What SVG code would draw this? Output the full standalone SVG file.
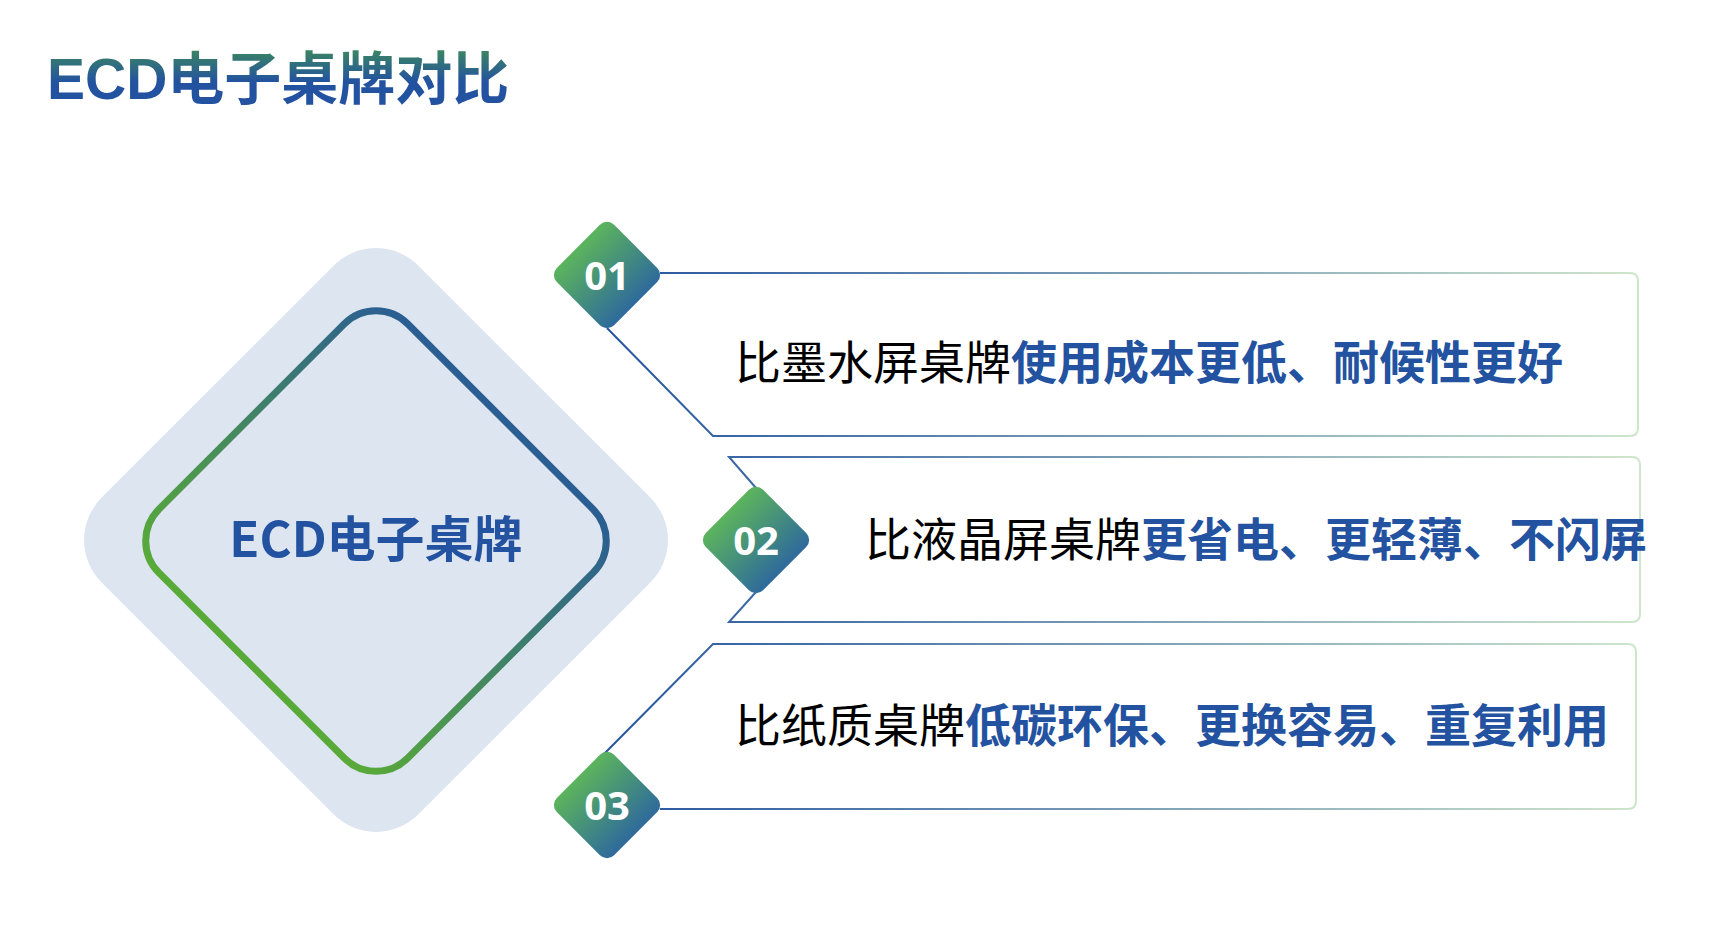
<svg xmlns="http://www.w3.org/2000/svg" width="1717" height="947" viewBox="0 0 1717 947">
<defs>
<linearGradient id="tg" x1="0" y1="0" x2="0" y2="1"><stop offset="0" stop-color="#3d8a5c"/><stop offset="0.55" stop-color="#2352a0"/></linearGradient>
<linearGradient id="rg" gradientUnits="userSpaceOnUse" x1="0" y1="314" x2="0" y2="768"><stop offset="0" stop-color="#24539f"/><stop offset="1" stop-color="#5fb52c"/></linearGradient>
<linearGradient id="dg" x1="0" y1="0" x2="1" y2="0"><stop offset="0" stop-color="#5cb45c"/><stop offset="1" stop-color="#2e6a9c"/></linearGradient>
<linearGradient id="lg" gradientUnits="userSpaceOnUse" x1="600" y1="0" x2="1640" y2="0"><stop offset="0" stop-color="#24539f"/><stop offset="1" stop-color="#cfe6cc"/></linearGradient>
<style>
.box{fill:none;stroke:url(#lg);stroke-width:2}
.num{fill:#fff;font-family:"Open Sans","Noto Sans",sans-serif;font-weight:bold;font-size:40px;text-anchor:middle}
.t{font-family:"Noto Sans CJK SC","Noto Sans",sans-serif;font-size:46px;fill:#000}
.b{font-weight:bold;fill:#2352a0}
</style>
</defs>
<rect width="1717" height="947" fill="#fff"/>
<text x="47" y="99" font-family="'Liberation Sans','Noto Sans CJK SC',sans-serif" font-weight="bold" font-size="57" fill="url(#tg)">ECD电子桌牌对比</text>
<g id="connectors">
<path class="box" d="M660,273 H1630 Q1638,273 1638,281 V428 Q1638,436 1630,436 H713 L607,328"/>
<path class="box" d="M756,488 L729,457 H1632 Q1640,457 1640,465 V614 Q1640,622 1632,622 H729 L756,592"/>
<path class="box" d="M603,755 L713,644 H1628 Q1636,644 1636,652 V801 Q1636,809 1628,809 H660"/>
</g>
<g id="center">
<rect x="152" y="316" width="448" height="448" rx="60" fill="#dde5f0" transform="rotate(45 376 540)"/>
<rect x="200" y="365" width="352" height="352" rx="45" fill="none" stroke="url(#rg)" stroke-width="7" transform="rotate(45 376 541)"/>
<text x="376" y="557" text-anchor="middle" font-family="'Noto Sans CJK SC','Noto Sans',sans-serif" font-weight="bold" font-size="49" fill="#2352a0">ECD电子桌牌</text>
</g>
<g id="n01">
<rect x="566.5" y="234.5" width="81" height="81" rx="10" fill="url(#dg)" transform="rotate(45 607 275)"/>
<text class="num" x="607" y="290">01</text>
<text class="t" x="735" y="379">比墨水屏桌牌<tspan class="b">使用成本更低、耐候性更好</tspan></text>
</g>
<g id="n02">
<rect x="715.5" y="499.5" width="81" height="81" rx="10" fill="url(#dg)" transform="rotate(45 756 540)"/>
<text class="num" x="756" y="555">02</text>
<text class="t" x="865" y="556">比液晶屏桌牌<tspan class="b">更省电、更轻薄、不闪屏</tspan></text>
</g>
<g id="n03">
<rect x="566.5" y="764.5" width="81" height="81" rx="10" fill="url(#dg)" transform="rotate(45 607 805)"/>
<text class="num" x="607" y="820">03</text>
<text class="t" x="735" y="742">比纸质桌牌<tspan class="b">低碳环保、更换容易、重复利用</tspan></text>
</g>
</svg>
